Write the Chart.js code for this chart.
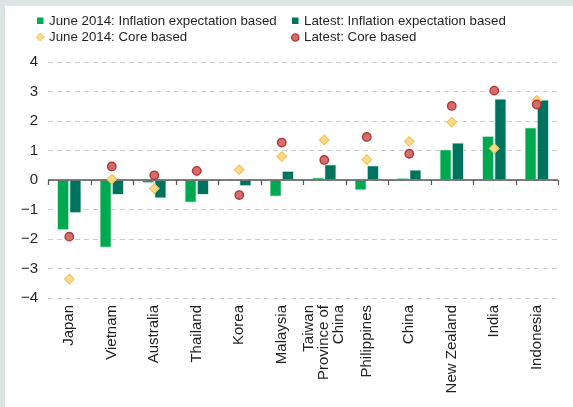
<!DOCTYPE html>
<html>
<head>
<meta charset="utf-8">
<script src="https://cdn.jsdelivr.net/npm/chart.js@4/dist/chart.umd.min.js"></script>
<style>
html,body{margin:0;padding:0;background:#fff;}
#wrap{position:relative;width:573px;height:407px;}
</style>
</head>
<body>
<div id="wrap"><canvas id="c" width="573" height="407"></canvas></div>
<script>
const categories = ['Japan','Vietnam','Australia','Thailand','Korea','Malaysia',['Taiwan','Province of','China'],'Philippines','China','New Zealand','India','Indonesia'];
const june2014Expectation = [-1.70, -2.30, -0.11, -0.77, 0.00, -0.57, 0.09, -0.36, 0.07, 1.04, 1.50, 1.79];
const latestExpectation   = [-1.13, -0.51, -0.63, -0.51, -0.21, 0.31, 0.53, 0.50, 0.36, 1.27, 2.76, 2.73];
const june2014Core        = [-3.36, 0.03, -0.29, 0.30, 0.35, 0.80, 1.36, 0.69, 1.31, 1.96, 1.07, 2.70];
const latestCore          = [-1.92, 0.46, 0.16, 0.31, -0.51, 1.27, 0.68, 1.46, 0.89, 2.51, 3.03, 2.56];
const yTicks = [-4, -3, -2, -1, 0, 1, 2, 3, 4];
const seriesLabels = ['June 2014: Inflation expectation based','Latest: Inflation expectation based','June 2014: Core based','Latest: Core based'];

const GREEN = '#00a94f', TEAL = '#00735f';
const DIA_FILL = '#fdd98c', DIA_BORDER = '#f5c35c';
const CIR_FILL = '#d07069', CIR_BORDER = '#b8323b';
const FONT = '"Liberation Sans", Arial, sans-serif';
const TEXT = '#231f20';

const bgPlugin = {
  id: 'bg',
  beforeDraw(chart) {
    const ctx = chart.ctx;
    ctx.save();
    ctx.fillStyle = '#dce5e3';
    ctx.fillRect(0, 0, chart.width, chart.height);
    ctx.fillStyle = '#ffffff';
    ctx.fillRect(5, 6, chart.width - 5, chart.height - 6);
    ctx.restore();
  }
};

const zeroPlugin = {
  id: 'zero',
  afterDatasetDraw(chart, args) {
    if (args.index !== 0) return;
    const ctx = chart.ctx, y = chart.scales.y.getPixelForValue(0);
    const a = chart.chartArea, n = categories.length, w = (a.right - a.left) / n;
    ctx.save();
    ctx.strokeStyle = '#555555';
    ctx.lineWidth = 1.5;
    ctx.beginPath();
    ctx.moveTo(a.left, y); ctx.lineTo(a.right, y);
    ctx.stroke();
    ctx.lineWidth = 1.2;
    ctx.beginPath();
    for (let i = 0; i <= n; i++) {
      const x = Math.round(a.left + i * w) + 0.5;
      ctx.moveTo(x, y); ctx.lineTo(x, y + 5);
    }
    ctx.stroke();
    ctx.restore();
  }
};

const xLabelPlugin = {
  id: 'xLabels',
  afterDraw(chart) {
    const ctx = chart.ctx, xs = chart.scales.x, top = chart.chartArea.bottom + 7;
    const lh = 15;
    ctx.save();
    ctx.font = '15px ' + FONT;
    ctx.fillStyle = TEXT;
    ctx.textAlign = 'right';
    ctx.textBaseline = 'middle';
    categories.forEach((lab, i) => {
      const lines = Array.isArray(lab) ? lab : [lab];
      const cx = xs.getPixelForValue(i);
      lines.forEach((ln, j) => {
        const x = cx + (j - (lines.length - 1) / 2) * lh;
        ctx.save();
        ctx.translate(x, top);
        ctx.rotate(-Math.PI / 2);
        ctx.fillText(ln, 0, 0);
        ctx.restore();
      });
    });
    ctx.restore();
  }
};

const legendPlugin = {
  id: 'customLegend',
  afterDraw(chart) {
    const ctx = chart.ctx;
    ctx.save();
    ctx.font = '13.3px ' + FONT;
    ctx.textBaseline = 'middle';
    const cols = [37, 292], rows = [21, 37], textOff = 12;
    const items = [
      {label: seriesLabels[0], col: 0, row: 0, kind: 'sq', color: GREEN},
      {label: seriesLabels[1], col: 1, row: 0, kind: 'sq', color: TEAL},
      {label: seriesLabels[2], col: 0, row: 1, kind: 'dia'},
      {label: seriesLabels[3], col: 1, row: 1, kind: 'cir'}
    ];
    items.forEach(it => {
      const x = cols[it.col], y = rows[it.row];
      if (it.kind === 'sq') {
        ctx.fillStyle = it.color;
        ctx.fillRect(x, y - 3.5, 6.5, 6.5);
      } else if (it.kind === 'dia') {
        ctx.beginPath();
        ctx.moveTo(x + 3.3, y - 4); ctx.lineTo(x + 7.3, y); ctx.lineTo(x + 3.3, y + 4); ctx.lineTo(x - 0.7, y); ctx.closePath();
        ctx.fillStyle = DIA_FILL; ctx.fill();
        ctx.strokeStyle = DIA_BORDER; ctx.lineWidth = 1; ctx.stroke();
      } else {
        ctx.beginPath();
        ctx.arc(x + 3.3, y + 0.5, 3.6, 0, Math.PI * 2);
        ctx.fillStyle = CIR_FILL; ctx.fill();
        ctx.strokeStyle = CIR_BORDER; ctx.lineWidth = 1.3; ctx.stroke();
      }
      ctx.fillStyle = TEXT;
      ctx.fillText(it.label, x + textOff, y);
    });
    ctx.restore();
  }
};

new Chart(document.getElementById('c'), {
  type: 'bar',
  data: {
    labels: categories,
    datasets: [
      {label: seriesLabels[0], data: june2014Expectation, backgroundColor: GREEN, borderColor: 'rgba(200,235,225,0.8)', borderWidth: 1, order: 2, barPercentage: 1, categoryPercentage: 0.58},
      {label: seriesLabels[1], data: latestExpectation, backgroundColor: TEAL, borderColor: 'rgba(200,235,225,0.8)', borderWidth: 1, order: 2, barPercentage: 1, categoryPercentage: 0.58},
      {type: 'line', label: seriesLabels[2], data: june2014Core, showLine: false, pointStyle: 'rectRot', pointRadius: 4.8, pointBackgroundColor: DIA_FILL, pointBorderColor: DIA_BORDER, pointBorderWidth: 1.2, order: 1},
      {type: 'line', label: seriesLabels[3], data: latestCore, showLine: false, pointStyle: 'circle', pointRadius: 4.2, pointBackgroundColor: CIR_FILL, pointBorderColor: CIR_BORDER, pointBorderWidth: 1.4, order: 0}
    ]
  },
  options: {
    responsive: false,
    animation: false,
    devicePixelRatio: 1,
    layout: {padding: {left: 0, right: 15, top: 62, bottom: 0}},
    plugins: {legend: {display: false}, tooltip: {enabled: false}},
    scales: {
      x: {
        grid: {display: false, drawTicks: false},
        border: {display: false},
        ticks: {display: false, autoSkip: false},
        afterFit(s) { s.height = 109; }
      },
      y: {
        min: -4, max: 4,
        afterBuildTicks(s) { s.ticks = yTicks.map(v => ({value: v})); },
        grid: {drawTicks: false, color: '#cfcfcf', lineWidth: 1},
        border: {display: false, dash: [5, 4]},
        ticks: {
          padding: 10, color: TEXT, font: {family: FONT, size: 15},
          callback: v => String(v).replace('-', '\u2212')
        },
        afterFit(s) { s.width = 48; }
      }
    }
  },
  plugins: [bgPlugin, zeroPlugin, xLabelPlugin, legendPlugin]
});
</script>
</body>
</html>
